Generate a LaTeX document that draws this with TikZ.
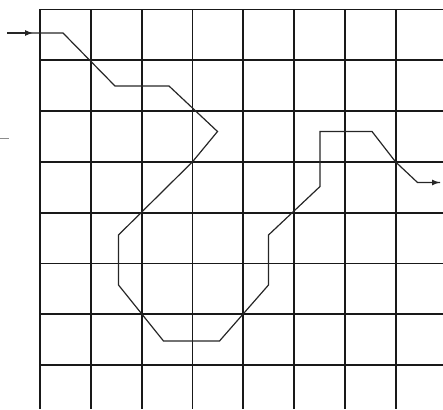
\documentclass[tikz,border=0pt]{standalone}
\usetikzlibrary{arrows.meta}
\begin{document}
\begin{tikzpicture}[x=1pt,y=-1pt,
  gridline/.style={line width=1.8pt,color=black!90},
  route/.style={line width=1.2pt,color=black!85,line join=miter},
  tip/.style={-{Latex[length=8pt,width=6pt]}}]
\useasboundingbox (0,0) rectangle (443,409);
% grid
\foreach \k in {0,...,7}{
  \draw[gridline] ({40+50.8*\k},9.5) -- ({40+50.8*\k},409);
  \draw[gridline] (40,{9.5+50.8*\k}) -- (443,{9.5+50.8*\k});
}
% short dash at left edge
\draw[line width=1pt,color=black!45] (0,138) -- (9,138);
% route points
\coordinate (s) at (7,33);
\coordinate (m) at (33,33);
\coordinate (p1) at (63,33);
\coordinate (p2) at (115,86);
\coordinate (p3) at (169,86);
\coordinate (p4) at (217.5,131.5);
\coordinate (p5) at (192.4,161.9);
\coordinate (p6) at (118.5,235);
\coordinate (p7) at (118.5,285);
\coordinate (p8) at (163.5,341);
\coordinate (p9) at (219.5,341);
\coordinate (p10) at (268.5,285);
\coordinate (p11) at (268.5,235);
\coordinate (p12) at (320,186.5);
\coordinate (p13) at (320,131.5);
\coordinate (p14) at (372,131.5);
\coordinate (p15) at (395.6,161.9);
\coordinate (p16) at (417.5,182.5);
\coordinate (e) at (440,182.5);
\draw[route] (s) -- (p1) -- (p2) -- (p3) -- (p4) -- (p5) -- (p6) -- (p7) -- (p8)
  -- (p9) -- (p10) -- (p11) -- (p12) -- (p13) -- (p14) -- (p15) -- (p16) -- (e);
\draw[route,tip] (s) -- (m);
\draw[route,tip] (p16) -- (e);
\end{tikzpicture}
\end{document}
